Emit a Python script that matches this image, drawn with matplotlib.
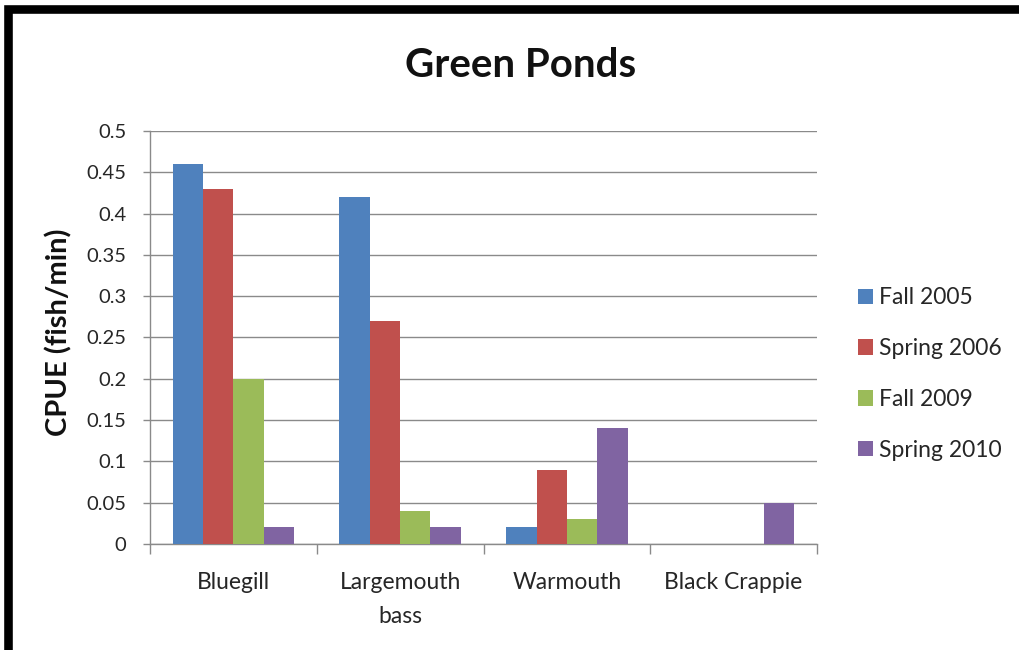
import matplotlib
matplotlib.use("Agg")
import matplotlib.pyplot as plt
from matplotlib.patches import Rectangle
import numpy as np

plt.rcParams['font.family'] = ['Lato', 'DejaVu Sans']

categories = ["Bluegill", "Largemouth\nbass", "Warmouth", "Black Crappie"]
series_names = ["Fall 2005", "Spring 2006", "Fall 2009", "Spring 2010"]
fall_2005 = [0.46, 0.42, 0.02, 0.0]
spring_2006 = [0.43, 0.27, 0.09, 0.0]
fall_2009 = [0.20, 0.04, 0.03, 0.0]
spring_2010 = [0.02, 0.02, 0.14, 0.05]
yticks = [0, 0.05, 0.1, 0.15, 0.2, 0.25, 0.3, 0.35, 0.4, 0.45, 0.5]
ytick_labels = ["0", "0.05", "0.1", "0.15", "0.2", "0.25", "0.3", "0.35", "0.4", "0.45", "0.5"]

colors = ["#4F81BD", "#C0504D", "#9BBB59", "#8064A2"]
series = [fall_2005, spring_2006, fall_2009, spring_2010]

W, H = 1020, 650
fig = plt.figure(figsize=(W / 100, H / 100), dpi=100)
fig.patch.set_facecolor("white")

ax = fig.add_axes([150 / W, 1 - 544 / H, (817 - 150) / W, (544 - 131) / H])

n = len(series)
bar_w = 1 / 5.5  # Excel-style 150% gap width
x = np.arange(len(categories))
for i, (vals, name, c) in enumerate(zip(series, series_names, colors)):
    offs = (i - (n - 1) / 2) * bar_w
    ax.bar(x + offs, vals, width=bar_w, color=c, label=name, zorder=3, linewidth=0)

ax.set_xlim(-0.5, len(categories) - 0.5)
ax.set_ylim(0, 0.5)
ax.set_yticks(yticks)
ax.set_yticklabels(ytick_labels, fontsize=14.5, color="#262626")
ax.yaxis.grid(True, color="#8a8a8a", linewidth=1.0, zorder=0)
ax.set_axisbelow(True)

ax.set_xticks(x)
ax.set_xticklabels(categories, fontsize=16.5, color="#262626", linespacing=1.75)
ax.tick_params(axis="x", length=0, pad=20)
ax.set_xticks(np.arange(-0.5, len(categories)), minor=True)
ax.tick_params(axis="x", which="minor", length=7, color="#8a8a8a", width=1)
ax.tick_params(axis="y", length=5, color="#8a8a8a", width=1, pad=12)

for side in ["top", "right"]:
    ax.spines[side].set_visible(False)
for side in ["left", "bottom"]:
    ax.spines[side].set_color("#8a8a8a")
    ax.spines[side].set_linewidth(1.0)

fig.text(59 / W, 1 - 332 / H, "CPUE (fish/min)", rotation=90, ha="center",
         va="center", fontsize=21, fontweight="bold", color="#111111")

fig.text(521 / W, 1 - 77 / H, "Green Ponds", ha="center", va="baseline",
         fontsize=29, fontweight="bold", color="#111111")

leg = ax.legend(loc="center left", bbox_to_anchor=(858 / W, 1 - 374 / H),
                bbox_transform=fig.transFigure, frameon=False, fontsize=16.5,
                handlelength=0.66, handleheight=0.66, handletextpad=0.25,
                labelspacing=1.3, borderpad=0, borderaxespad=0)
for t in leg.get_texts():
    t.set_color("#262626")

# Heavy black frame around the chart area
frame = Rectangle((8.5 / W, -2 / H), (1040 - 8.5) / W, (H - 9 + 2) / H,
                  transform=fig.transFigure, fill=False, edgecolor="black",
                  linewidth=6.2, clip_on=False)
fig.patches.append(frame)

fig.savefig("out.png", dpi=100, facecolor="white")
